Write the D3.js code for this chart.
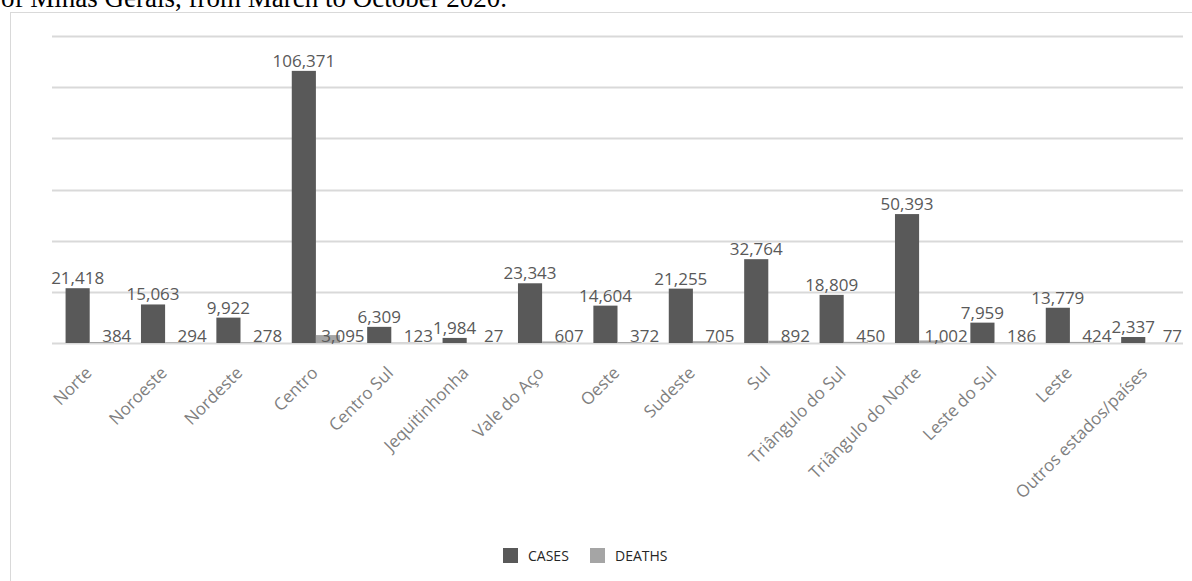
<!DOCTYPE html>
<html>
<head>
<meta charset="utf-8">
<script src="https://cdn.jsdelivr.net/npm/d3@7"></script>
<style>
  html, body { margin: 0; padding: 0; background: #ffffff; }
  svg { display: block; }
</style>
</head>
<body>
<svg id="chart" width="1192" height="581"></svg>
<script>
const categories = ["Norte", "Noroeste", "Nordeste", "Centro", "Centro Sul", "Jequitinhonha", "Vale do Aço", "Oeste", "Sudeste", "Sul", "Triângulo do Sul", "Triângulo do Norte", "Leste do Sul", "Leste", "Outros estados/países"];
const cases = [21418, 15063, 9922, 106371, 6309, 1984, 23343, 14604, 21255, 32764, 18809, 50393, 7959, 13779, 2337];
const deaths = [384, 294, 278, 3095, 123, 27, 607, 372, 705, 892, 450, 1002, 186, 424, 77];
const seriesNames = ["CASES", "DEATHS"];
const yTicks = [0, 20000, 40000, 60000, 80000, 100000, 120000];
const captionText = "of Minas Gerais, from March to October 2020.";

const colors = { CASES: "#595959", DEATHS: "#a5a5a5" };
const svg = d3.select("#chart");
const fmt = d3.format(",");

// caption (cut off at top, as in the source page)
svg.append("text")
  .attr("x", 1).attr("y", 7)
  .attr("font-family", "Liberation Serif, Times New Roman, serif")
  .attr("font-size", 27)
  .attr("fill", "#000")
  .text(captionText);

// chart frame
svg.append("rect")
  .attr("x", 10.5).attr("y", 12.5)
  .attr("width", 1200).attr("height", 620)
  .attr("fill", "#fff").attr("stroke", "#d9d9d9").attr("stroke-width", 1);

const plot = { left: 52, right: 1183, top: 36, bottom: 343 };

const x0 = d3.scaleBand().domain(categories).range([plot.left, plot.right]).paddingInner(0).paddingOuter(0);
const groupInner = 0.18;
const x1 = d3.scaleBand().domain(seriesNames)
  .range([x0.bandwidth() * groupInner, x0.bandwidth() * (1 - groupInner)]).padding(0);
const y = d3.scaleLinear().domain([0, 120000]).range([plot.bottom, plot.top]);

// gridlines
svg.append("g").selectAll("line").data(yTicks).join("line")
  .attr("x1", plot.left).attr("x2", plot.right)
  .attr("y1", d => Math.round(y(d)) + 0.5).attr("y2", d => Math.round(y(d)) + 0.5)
  .attr("stroke", "#d9d9d9").attr("stroke-width", 2);

const rows = categories.map((c, i) => ({ cat: c, CASES: cases[i], DEATHS: deaths[i] }));

const groups = svg.append("g").selectAll("g").data(rows).join("g")
  .attr("transform", d => `translate(${x0(d.cat)},0)`);

groups.selectAll("rect").data(d => seriesNames.map(s => ({ s, v: d[s] }))).join("rect")
  .attr("x", d => x1(d.s))
  .attr("width", x1.bandwidth())
  .attr("y", d => y(d.v))
  .attr("height", d => y(0) - y(d.v))
  .attr("fill", d => colors[d.s]);

// case labels
groups.append("text")
  .attr("x", x1("CASES") + x1.bandwidth() / 2)
  .attr("y", d => y(d.CASES) - 4)
  .attr("text-anchor", "middle")
  .attr("font-family", "Open Sans, sans-serif")
  .attr("font-size", 17)
  .attr("fill", "#595959")
  .text(d => fmt(d.CASES));

// death labels (sit just right of the deaths bar, near the baseline)
groups.append("text")
  .attr("x", x1("DEATHS") + x1.bandwidth() / 2 + 15)
  .attr("y", y(0) - 1)
  .attr("text-anchor", "middle")
  .attr("font-family", "Open Sans, sans-serif")
  .attr("font-size", 17)
  .attr("fill", "#595959")
  .text(d => fmt(d.DEATHS));

// category axis labels
svg.append("g").selectAll("text").data(categories).join("text")
  .attr("transform", d => `translate(${x0(d) + x0.bandwidth() / 2 + 3},${plot.bottom + 31}) rotate(-45)`)
  .attr("text-anchor", "end")
  .attr("font-family", "Open Sans, sans-serif")
  .attr("font-size", 17)
  .attr("fill", "#7f7f7f")
  .text(d => d);

// legend
const legend = svg.append("g").attr("transform", "translate(503,548)");
const lx = d3.scaleOrdinal().domain(seriesNames).range([0, 87]);
const li = legend.selectAll("g").data(seriesNames).join("g")
  .attr("transform", d => `translate(${lx(d)},0)`);
li.append("rect").attr("width", 15).attr("height", 15).attr("fill", d => colors[d]);
li.append("text").attr("x", 25).attr("y", 13)
  .attr("font-family", "Open Sans, sans-serif")
  .attr("font-size", 14)
  .attr("fill", "#262626")
  .text(d => d);
</script>
</body>
</html>
